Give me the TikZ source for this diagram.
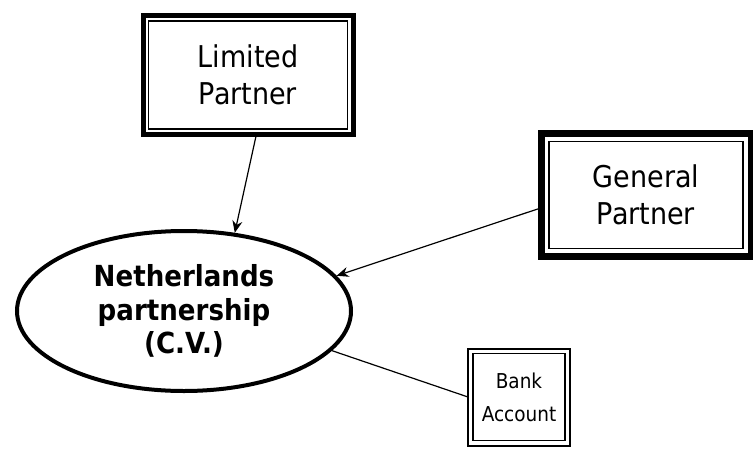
\documentclass[tikz,border=0pt]{standalone}
\usepackage{fontspec}
\newfontfamily\boxfont[FakeStretch=0.9]{DejaVu Sans}
\usetikzlibrary{shapes.geometric,arrows.meta}

\tikzset{
  partner/.style={draw,rectangle,line width=#1,outer sep=0pt,inner sep=0pt,align=center,
    font=\boxfont\fontsize{30}{37}\selectfont},
  innerframe/.style={line width=1.3pt},
  link/.style={line width=1.2pt},
  tip/.style={-{Stealth[length=12pt,width=10pt]}}
}

\begin{document}
\begin{tikzpicture}[x=1pt,y=-1pt]
  \useasboundingbox (0,0) rectangle (753,448);
  \node[partner=5pt,minimum width=210pt,minimum height=119pt] (lp) at (248,75) {Limited\\Partner};
  \node[partner=7pt,minimum width=210pt,minimum height=123pt] (gp) at (646,195) {General\\Partner};
  \node[partner=2pt,minimum width=102pt,minimum height=97pt,
    font=\boxfont\fontsize{20.5}{33}\selectfont] (bank) at (519,397) {Bank\\Account};
  \node[ellipse,draw,line width=4pt,minimum width=334pt,minimum height=160pt,inner sep=0pt,
    align=center,font=\boxfont\bfseries\fontsize{29}{33.5}\selectfont] (cv) at (184,311)
    {Netherlands\\partnership\\(C.V.)};
  % inner lines of the frames
  \foreach \n/\d in {lp/5.5pt,gp/8pt,bank/5pt}
    \draw[innerframe] ([shift={(\d,-\d)}]\n.north west) rectangle ([shift={(-\d,\d)}]\n.south east);
  \draw[link,tip] (lp.278) -- (cv.57);
  \draw[link,tip] (gp.187) -- (cv.13);
  \draw[link] (cv.-15) -- (bank.west);
\end{tikzpicture}
\end{document}
